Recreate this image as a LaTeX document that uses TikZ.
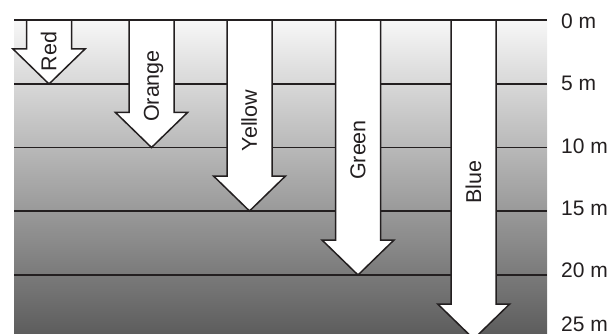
\documentclass[tikz,border=0pt]{standalone}
\usepackage{fontspec}
\setmainfont{Liberation Sans}
\definecolor{ink}{HTML}{231F20}
\definecolor{watertop}{HTML}{F7F7F7}
\definecolor{waterbottom}{HTML}{5A5A5A}
\begin{document}
\begin{tikzpicture}[x=1pt,y=-1pt,
  depthline/.style={draw=ink,line width=1.5pt},
  arrowbody/.style={draw=ink,fill=white,line width=1.5pt,line join=miter},
  arrowlabel/.style={rotate=90,anchor=base,inner sep=0pt,font=\fontsize{21.5}{25}\selectfont,text=ink},
  depthlabel/.style={anchor=base west,inner sep=0pt,font=\fontsize{21}{25}\selectfont,text=ink}]
\useasboundingbox (0,0) rectangle (615,334);
\clip (0,0) rectangle (615,334);
% water
\shade[top color=watertop,bottom color=waterbottom] (14,20) rectangle (547,340);
% depth lines
\foreach \d in {20,84,147.5,211,275}{
  \draw[depthline] (14,\d) -- (547,\d);
}
% depth labels
\foreach \n/\y/\t in {d0/21/0 m,d5/83.5/5 m,d10/145.7/10 m,d15/208/15 m,d20/270/20 m,d25/323.5/25 m}{
  \node[depthlabel] (\n) at (561,\y+7.5) {\t};
}
% arrows
\foreach \n/\c/\tip/\lab/\ly in {red/49/84/Red/51.5,orange/151.5/147.5/Orange/86,yellow/249.5/211/Yellow/120.5,green/358/275/Green/150,blue/473.7/339/Blue/182}{
  \draw[arrowbody] (\c-22.5,20) -- (\c-22.5,\tip-35) -- (\c-36,\tip-35) -- (\c,\tip)
     -- (\c+36,\tip-35) -- (\c+22.5,\tip-35) -- (\c+22.5,20);
  \node[arrowlabel] (\n) at (\c+7.4,\ly) {\lab};
}
\draw[depthline] (14,20) -- (547,20);
\end{tikzpicture}
\end{document}
